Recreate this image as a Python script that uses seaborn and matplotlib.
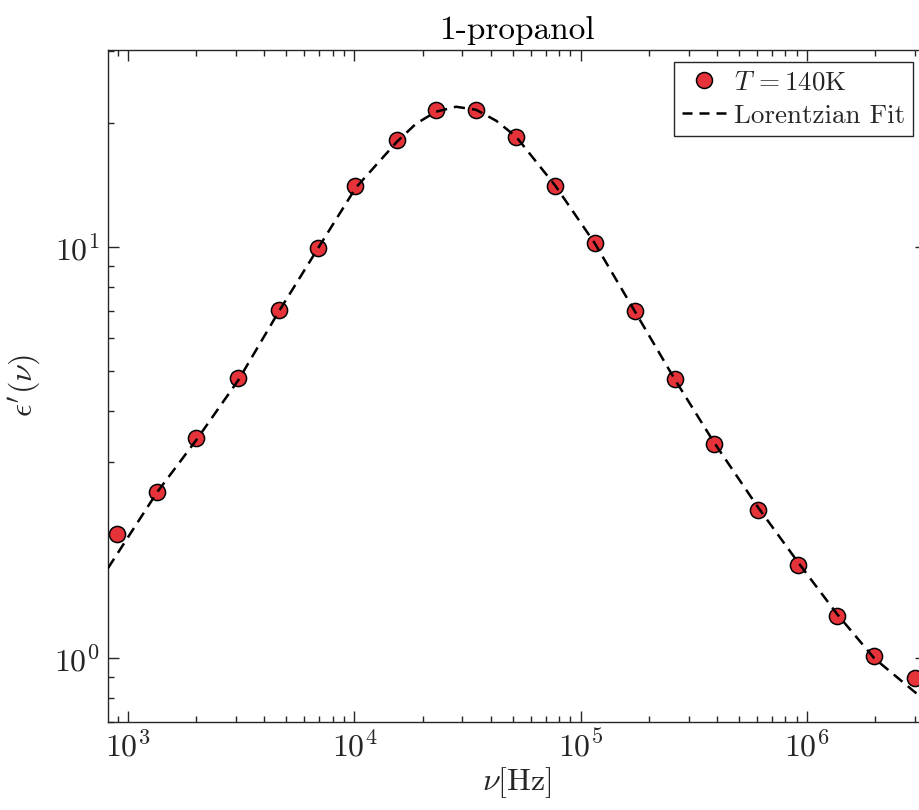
import numpy as np
import pandas as pd
import matplotlib
matplotlib.use("Agg")
import matplotlib.pyplot as plt
import seaborn as sns
from matplotlib.lines import Line2D
from matplotlib.ticker import LogLocator, NullFormatter

# ---- data ----
freq_hz = [894, 1343, 2000, 3070, 4620, 6880, 10100, 15400, 22900, 34400,
           51800, 77100, 115000, 173000, 260000, 387000, 605000, 911000,
           1356000, 1978000, 3006000]
eps_meas = [2.01, 2.54, 3.43, 4.80, 7.03, 9.95, 14.07, 18.2, 21.5, 21.5,
            18.5, 14.07, 10.2, 6.99, 4.77, 3.32, 2.29, 1.69, 1.27, 1.01, 0.894]

fit_freq = [815, 1344, 2001, 3072, 4619, 6878, 10134, 15395, 18690, 22930,
            28110, 34460, 42270, 51840, 77170, 114900, 172800, 259800,
            386800, 605900, 911100, 1357000, 1979000, 3229000]
fit_eps = [1.656, 2.534, 3.392, 4.747, 6.946, 9.89, 13.92, 18.01, 19.92, 21.31,
           21.91, 21.54, 20.26, 18.52, 14.08, 10.23, 6.99, 4.77, 3.354, 2.330,
           1.712, 1.280, 1.0, 0.799]

title = "1-propanol"
series_label = r"$T\,= 140$K"
fit_label = "Lorentzian Fit"
xlabel = r"$\nu$[Hz]"
ylabel = r"$\epsilon'(\nu)$"

# ---- style ----
sns.set_theme(style="ticks")
plt.rcParams.update({
    "font.family": "serif",
    "font.serif": ["cmr10", "DejaVu Serif"],
    "mathtext.fontset": "cm",
    "axes.formatter.use_mathtext": True,
    "axes.unicode_minus": False,
})

dark = "#262626"
fig = plt.figure(figsize=(9.2, 8.1), dpi=100)
ax = fig.add_axes([108/920, 88/810, 818/920, 672/810])
ax.set_xscale("log")
ax.set_yscale("log")

df_pts = pd.DataFrame({"freq": freq_hz, "eps": eps_meas})
df_fit = pd.DataFrame({"freq": fit_freq, "eps": fit_eps})

sns.scatterplot(data=df_pts, x="freq", y="eps", ax=ax, s=135, color="#E6333A",
                edgecolor="black", linewidth=1.1, zorder=2, legend=False)
sns.lineplot(data=df_fit, x="freq", y="eps", ax=ax, sort=False, estimator=None,
             color="black", linewidth=1.8, linestyle="--", zorder=3, legend=False)
for ln in ax.get_lines():
    ln.set_dashes((4.5, 2.8))

ax.set_xlim(815, 3.35e6)
ax.set_ylim(0.70, 30.1)

ax.xaxis.set_major_locator(LogLocator(base=10, numticks=20))
ax.xaxis.set_minor_locator(LogLocator(base=10, subs=np.arange(2, 10), numticks=20))
ax.xaxis.set_minor_formatter(NullFormatter())
ax.yaxis.set_minor_formatter(NullFormatter())

ax.tick_params(which="both", direction="in", top=True, right=True, colors=dark,
               labelcolor=dark, width=1.0)
ax.tick_params(which="major", length=8, labelsize=23, pad=6)
ax.tick_params(which="minor", length=4.5)
for sp in ax.spines.values():
    sp.set_color(dark)
    sp.set_linewidth(1.0)
    sp.set_visible(True)

ax.set_title(title, fontsize=24, color="black", pad=8)
ax.set_xlabel(xlabel, fontsize=23, color=dark, labelpad=2)
ax.set_ylabel(ylabel, fontsize=23, color=dark, labelpad=8)

handles = [
    Line2D([], [], marker="o", linestyle="none", markersize=11.5,
           markerfacecolor="#E6333A", markeredgecolor="black", markeredgewidth=1.1),
    Line2D([], [], color="black", linestyle="--", dashes=(4, 2.8), linewidth=1.8),
]
leg = ax.legend(handles, [series_label, fit_label], loc="upper right",
                bbox_to_anchor=(913/920, (810-62)/810), bbox_transform=fig.transFigure,
                borderaxespad=0, fontsize=19.5, frameon=True, fancybox=False,
                edgecolor=dark, framealpha=1, handlelength=1.6, handletextpad=0.3,
                borderpad=0.3, labelspacing=0.35)
leg.get_frame().set_linewidth(1.0)

fig.savefig("out.png", dpi=100)
